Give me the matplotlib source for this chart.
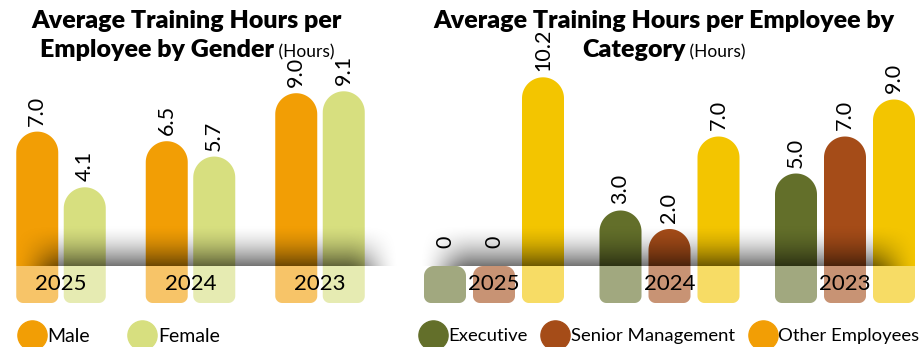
import numpy as np
import matplotlib.pyplot as plt
from matplotlib.path import Path
from matplotlib.patches import PathPatch
from matplotlib.lines import Line2D

plt.rcParams['font.family'] = ['Lato', 'DejaVu Sans']

# data
years = ['2025', '2024', '2023']
gender_series = ['Male', 'Female']
male_hours = [7.0, 6.5, 9.0]
female_hours = [4.1, 5.7, 9.1]
category_series = ['Executive', 'Senior Management', 'Other Employees']
executive_hours = [0, 3.0, 5.0]
senior_hours = [0, 2.0, 7.0]
other_hours = [10.2, 7.0, 9.0]

MALE = '#F29E05'
FEMALE = '#D7DF7F'
EXEC = '#636F2A'
SENIOR = '#A54C18'
OTHER = '#F3C500'
OTHER_KEY = '#F29E05'

W, H, DPI = 920, 347, 100
BASE = 81          # baseline height above figure bottom, px
REFL = 37          # depth of the reflection below baseline, px
SHADOW = 42        # height of the floor shadow, px

fig = plt.figure(figsize=(W / DPI, H / DPI), dpi=DPI)


def make_axes(x0, x1, group_px, first_px, px_per_unit):
    y0, y1 = 20, 285
    ax = fig.add_axes([x0 / W, y0 / H, (x1 - x0) / W, (y1 - y0) / H])
    ax.set_xlim((x0 - first_px) / group_px, (x1 - first_px) / group_px)
    ax.set_ylim((y0 - BASE) / px_per_unit, (y1 - BASE) / px_per_unit)
    ax.axis('off')
    ax.sx = group_px          # px per x unit
    ax.sy = px_per_unit       # px per y unit
    return ax


def arc(cx, cy, rx, ry, a0, a1, n=24):
    t = np.linspace(np.radians(a0), np.radians(a1), n)
    return np.column_stack([cx + rx * np.cos(t), cy + ry * np.sin(t)])


def bar(ax, xc, value, width_px, color):
    w = width_px / ax.sx
    rt_px = min(width_px / 2, max(10, value * ax.sy))
    rb_px = 7
    rtx, rty = rt_px / ax.sx, rt_px / ax.sy
    rbx, rby = rb_px / ax.sx, rb_px / ax.sy
    left, right = xc - w / 2, xc + w / 2
    top, bottom = value, -REFL / ax.sy
    pts = np.vstack([
        arc(left + rbx, bottom + rby, rbx, rby, 180, 270),
        arc(right - rbx, bottom + rby, rbx, rby, 270, 360),
        arc(right - rtx, top - rty, rtx, rty, 0, 90),
        arc(left + rtx, top - rty, rtx, rty, 90, 180),
    ])
    pts = np.vstack([pts, pts[:1]])
    codes = [Path.MOVETO] + [Path.LINETO] * (len(pts) - 2) + [Path.CLOSEPOLY]
    ax.add_patch(PathPatch(Path(pts, codes), facecolor=color, edgecolor='none', zorder=2))
    gap = 6 + (12 if value == 0 else 0)
    ax.annotate(f'{value:.1f}' if value else '0', (xc, value), xytext=(0, gap * 0.72),
                textcoords='offset points', rotation=90, ha='center', va='bottom',
                fontsize=15.5, color='black', zorder=6)


def floor(ax, x_from, x_to):
    # soft dark shadow just above the baseline, lighter reflection below it
    h = SHADOW / ax.sy
    ny, nx = 120, 400
    t = np.linspace(0, 1, ny)[:, None]          # 0 at top, 1 at baseline
    xs = np.linspace(0, 1, nx)[None, :]
    span = (x_to - x_from) * ax.sx
    edge = 55 / span
    fade = np.clip(np.minimum(xs / edge, (1 - xs) / edge), 0, 1)
    fade = np.sin(fade * np.pi / 2) ** 2
    alpha = 0.55 * t ** 1.7 * fade
    img = np.zeros((ny, nx, 4))
    img[..., 3] = alpha
    ax.imshow(img, extent=(x_from, x_to, 0, h), origin='upper', aspect='auto',
              interpolation='bilinear', zorder=4)
    ax.axhspan(ax.get_ylim()[0], 0, color='white', alpha=0.4, lw=0, zorder=3)
    for i, y in enumerate(years):
        ax.text(i, -REFL / 2 / ax.sy, y, ha='center', va='center', fontsize=16, zorder=6)


# gender panel
axl = make_axes(0, 400, 129.5, 61, 19.2)
off = 47.5 / 129.5 / 2
for i in range(len(years)):
    bar(axl, i - off, male_hours[i], 42, MALE)
    bar(axl, i + off, female_hours[i], 42, FEMALE)
floor(axl, (12 - 61) / 129.5, (400 - 61) / 129.5)

# category panel
axr = make_axes(410, 920, 175.5, 494, 18.5)
off = 49 / 175.5
for i in range(len(years)):
    bar(axr, i - off, executive_hours[i], 42, EXEC)
    bar(axr, i, senior_hours[i], 42, SENIOR)
    bar(axr, i + off, other_hours[i], 42, OTHER)
floor(axr, (418 - 494) / 175.5, (920 - 494) / 175.5)

# titles: bold line plus bold/regular mixed second line
renderer = fig.canvas.get_renderer()


def title(cx, line1, bold2, light2):
    fig.text(cx / W, 1 - 28 / H, line1, ha='center', va='baseline',
             fontsize=18, fontweight='heavy')
    a = fig.text(0, 1 - 57 / H, bold2, ha='left', va='baseline',
                 fontsize=18, fontweight='heavy')
    b = fig.text(0, 1 - 57 / H, ' ' + light2, ha='left', va='baseline', fontsize=12.5)
    wa = a.get_window_extent(renderer).width
    wb = b.get_window_extent(renderer).width
    start = cx - (wa + wb) / 2
    a.set_x(start / W)
    b.set_x((start + wa) / W)


title(187, 'Average Training Hours per', 'Employee by Gender', '(Hours)')
title(664, 'Average Training Hours per Employee by', 'Category', '(Hours)')

# legends
def key(color):
    return Line2D([], [], marker='o', ls='', ms=21, color=color)


fig.legend([key(MALE), key(FEMALE)], gender_series, loc='center left',
           bbox_to_anchor=(20 / W, 1 - 336 / H), ncol=2, frameon=False, fontsize=14,
           handlelength=1.2, handletextpad=0.2, columnspacing=2.1,
           borderpad=0, borderaxespad=0)
fig.legend([key(EXEC), key(SENIOR), key(OTHER_KEY)], category_series, loc='center left',
           bbox_to_anchor=(421 / W, 1 - 336 / H), ncol=3, frameon=False, fontsize=13.3,
           handlelength=1.25, handletextpad=0.2, columnspacing=0.9,
           borderpad=0, borderaxespad=0)

fig.savefig('out.png', dpi=DPI)
